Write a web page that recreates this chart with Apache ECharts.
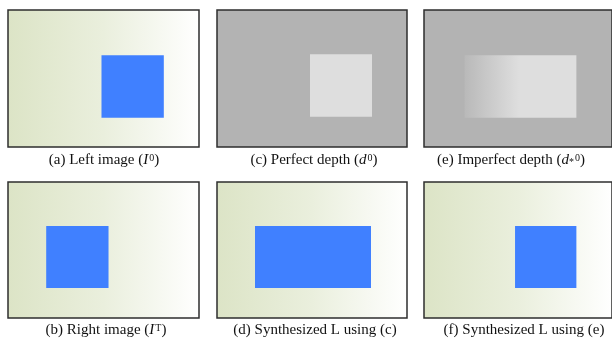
<!DOCTYPE html>
<html>
<head>
<meta charset="utf-8">
<script src="https://cdn.jsdelivr.net/npm/echarts@6/dist/echarts.min.js"></script>
<style>
  html, body { margin: 0; padding: 0; background: #ffffff; }
  #chart { width: 612px; height: 343px; }
</style>
</head>
<body>
<div id="chart"></div>
<script>
// Scene extent of every panel, in image units (width, height)
const sceneWidth = 190;
const sceneHeight = 136;

// Object extents in image units: [x0, y0, x1, y1]
const leftImageBlock = [93, 45, 155, 107];       // (a) object in the left view
const rightImageBlock = [38, 44, 100, 106];      // (b) object in the right view
const perfectDepthBlock = [93, 44, 155, 106];    // (c) near-depth region
const imperfectDepthBlock = [41, 45, 154, 107];  // (e) near-depth region, smeared edge
const imperfectRampEnd = 96;                     // (e) x where the smeared edge reaches full depth
const synthPerfectBlock = [38, 44, 154, 106];    // (d) warped result using (c)
const synthImperfectBlock = [92, 44, 154, 106];  // (f) warped result using (e)

// Panel captions (rich text)
const captions = [
  '(a) Left image ({it|I}{sup|0})',
  '(c) Perfect depth ({it|d}{sup|0})',
  '(e) Imperfect depth ({it|d}{sub|*}{sup|0})',
  '(b) Right image ({it|I}{sup|T})',
  '(d) Synthesized L using (c)',
  '(f) Synthesized L using (e)'
];

// Panel kinds, in caption order
const panelKinds = ['color', 'depth', 'depth', 'color', 'color', 'color'];
const panelBlocks = [leftImageBlock, perfectDepthBlock, imperfectDepthBlock,
                     rightImageBlock, synthPerfectBlock, synthImperfectBlock];

// Layout of the six panels (px)
const layouts = [
  { left: 8,   top: 10,  width: 191, height: 137 },
  { left: 217, top: 10,  width: 190, height: 137 },
  { left: 424, top: 10,  width: 191, height: 137 },
  { left: 8,   top: 182, width: 191, height: 136 },
  { left: 217, top: 182, width: 190, height: 136 },
  { left: 424, top: 182, width: 191, height: 136 }
];
const captionPos = [
  [104, 160], [314, 160], [511, 160],
  [106, 330], [315, 330], [524, 330]
];

const BLUE = '#4080ff';
const GRAY_BG = '#b3b3b3';
const GRAY_NEAR = '#dedede';
const GREEN_RAMP = {
  type: 'linear', x: 0, y: 0, x2: 1, y2: 0,
  colorStops: [
    { offset: 0, color: '#dce4c6' },
    { offset: 0.5, color: '#eaefdd' },
    { offset: 1, color: '#ffffff' }
  ]
};

function rectFromValues(api) {
  const p0 = api.coord([api.value(0), api.value(1)]);
  const p1 = api.coord([api.value(2), api.value(3)]);
  return {
    x: Math.min(p0[0], p1[0]),
    y: Math.min(p0[1], p1[1]),
    width: Math.abs(p1[0] - p0[0]),
    height: Math.abs(p1[1] - p0[1])
  };
}

const grids = [], xAxes = [], yAxes = [], series = [];

layouts.forEach(function (lay, i) {
  grids.push(Object.assign({ show: false, containLabel: false }, lay));
  xAxes.push({ type: 'value', gridIndex: i, min: 0, max: sceneWidth, show: false });
  yAxes.push({ type: 'value', gridIndex: i, min: 0, max: sceneHeight, inverse: true, show: false });

  const kind = panelKinds[i];

  // Background of the scene plus its frame
  series.push({
    type: 'custom',
    xAxisIndex: i, yAxisIndex: i,
    silent: true,
    clip: false,
    data: [[0, 0, sceneWidth, sceneHeight]],
    encode: { x: [0, 2], y: [1, 3] },
    renderItem: function (params, api) {
      const r = rectFromValues(api);
      return {
        type: 'rect',
        shape: r,
        style: {
          fill: kind === 'color' ? GREEN_RAMP : GRAY_BG,
          stroke: '#2e2e2e',
          lineWidth: 1.5
        }
      };
    }
  });

  // Foreground object
  const block = panelBlocks[i];
  series.push({
    type: 'custom',
    xAxisIndex: i, yAxisIndex: i,
    silent: true,
    data: [block],
    encode: { x: [0, 2], y: [1, 3] },
    renderItem: function (params, api) {
      const r = rectFromValues(api);
      let fill;
      if (kind === 'color') {
        fill = BLUE;
      } else if (block === imperfectDepthBlock) {
        const stop = (imperfectRampEnd - block[0]) / (block[2] - block[0]);
        fill = {
          type: 'linear', x: 0, y: 0, x2: 1, y2: 0,
          colorStops: [
            { offset: 0, color: '#b9b9b9' },
            { offset: stop, color: GRAY_NEAR },
            { offset: 1, color: GRAY_NEAR }
          ]
        };
      } else {
        fill = GRAY_NEAR;
      }
      return { type: 'rect', shape: r, style: { fill: fill } };
    }
  });
});

const richStyles = {
  it:  { fontFamily: 'Liberation Serif', fontSize: 15, fontStyle: 'italic', fill: '#111' },
  sup: { fontFamily: 'Liberation Serif', fontSize: 10, verticalAlign: 'top', fill: '#111', padding: [1, 0, 0, 1] },
  sub: { fontFamily: 'Liberation Serif', fontSize: 10, verticalAlign: 'bottom', fill: '#111' }
};

const graphics = captions.map(function (t, i) {
  return {
    type: 'text',
    x: captionPos[i][0],
    y: captionPos[i][1],
    silent: true,
    style: {
      text: t,
      fontFamily: 'Liberation Serif',
      fontSize: 15,
      fill: '#111',
      align: 'center',
      verticalAlign: 'middle',
      rich: richStyles
    }
  };
});

const chart = echarts.init(document.getElementById('chart'), null, { renderer: 'canvas' });
chart.setOption({
  animation: false,
  backgroundColor: '#ffffff',
  grid: grids,
  xAxis: xAxes,
  yAxis: yAxes,
  series: series,
  graphic: graphics
});
</script>
</body>
</html>
